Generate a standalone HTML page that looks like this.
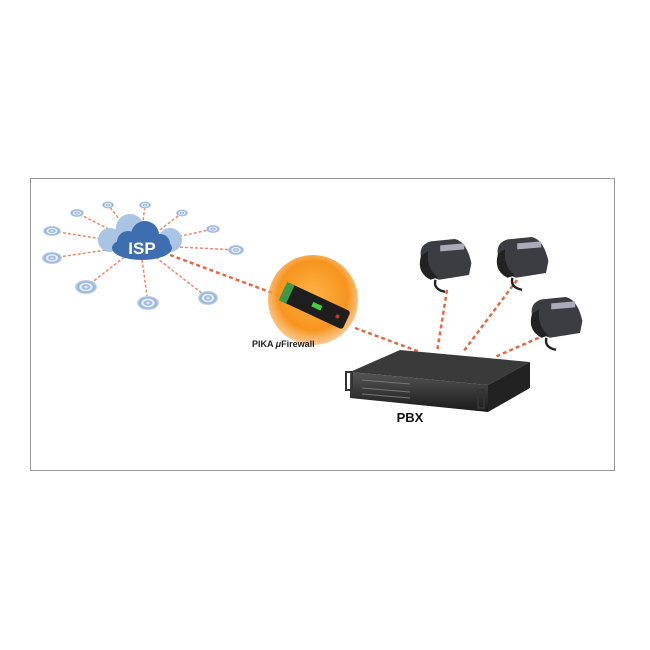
<!DOCTYPE html>
<html><head><style>body{margin:0;background:#fff}svg{display:block}</style></head><body>
<svg width="650" height="650" viewBox="0 0 650 650" xmlns="http://www.w3.org/2000/svg">
<defs>
<radialGradient id="og" cx="50%" cy="45%" r="55%"><stop offset="0" stop-color="#ffb347"/><stop offset=".7" stop-color="#f7941d"/><stop offset="1" stop-color="#f8a84a" stop-opacity=".6"/></radialGradient>
<radialGradient id="rg"><stop offset="0" stop-color="#fff"/><stop offset=".3" stop-color="#8fb0d8"/><stop offset=".5" stop-color="#fff"/><stop offset=".7" stop-color="#8fb0d8"/><stop offset="1" stop-color="#c8d8ec"/></radialGradient>
<linearGradient id="pb" x1="0" y1="0" x2="0" y2="1"><stop offset="0" stop-color="#555"/><stop offset="1" stop-color="#1a1a1a"/></linearGradient>
<g id="ph" transform="scale(1.2)"><path d="M-20,-5 Q-22,-15 -12,-18 L8,-20 Q18,-18 22,0 L20,10 L-5,14 Q-18,10 -20,-5Z" fill="#3b3d42"/><rect x="-4" y="-15" width="20" height="5" fill="#aab" transform="skewY(-5)"/><path d="M-20,-6 Q-24,8 -12,14 L-6,12 Q-16,4 -14,-10Z" fill="#222"/><path d="M-8,14 Q-10,22 0,24" stroke="#222" fill="none" stroke-width="2"/></g>
</defs>
<rect x="30.5" y="178.5" width="584" height="292" fill="#fff" stroke="#999"/>
<g stroke="#e88a70" stroke-width="1.5" stroke-dasharray="3,2" fill="none">
<line x1="140" y1="245" x2="77" y2="213"/><line x1="140" y1="245" x2="108" y2="205"/>
<line x1="140" y1="245" x2="145" y2="205"/><line x1="140" y1="245" x2="182" y2="213"/>
<line x1="140" y1="245" x2="213" y2="229"/><line x1="140" y1="245" x2="236" y2="250"/>
<line x1="140" y1="245" x2="52" y2="231"/><line x1="140" y1="245" x2="52" y2="258"/>
<line x1="140" y1="245" x2="86" y2="287"/><line x1="140" y1="245" x2="148" y2="303"/>
<line x1="140" y1="245" x2="208" y2="298"/>
</g>
<g stroke="#e0694a" stroke-width="2.5" stroke-dasharray="4,3" fill="none">
<line x1="170" y1="255" x2="278" y2="295"/><line x1="355" y1="328" x2="420" y2="352"/>
<line x1="447" y1="290" x2="437" y2="352"/><line x1="517" y1="280" x2="463" y2="352"/>
<line x1="545" y1="335" x2="495" y2="357"/>
</g>
<g fill="url(#rg)">
<ellipse cx="77" cy="213" rx="7" ry="4"/><ellipse cx="108" cy="205" rx="6" ry="3.5"/>
<ellipse cx="145" cy="205" rx="6" ry="3.5"/><ellipse cx="182" cy="213" rx="6" ry="3.5"/>
<ellipse cx="213" cy="229" rx="7" ry="4"/><ellipse cx="236" cy="250" rx="8" ry="5"/>
<ellipse cx="52" cy="231" rx="9" ry="5"/><ellipse cx="52" cy="258" rx="10" ry="6"/>
<ellipse cx="86" cy="287" rx="11" ry="7"/><ellipse cx="148" cy="303" rx="11" ry="7"/>
<ellipse cx="208" cy="298" rx="10" ry="7"/>
</g>
<g fill="#aac4e4"><circle cx="110" cy="240" r="12"/><circle cx="130" cy="228" r="14"/><circle cx="170" cy="240" r="12"/></g>
<g fill="#3d6eb0"><ellipse cx="142" cy="248" rx="30" ry="12"/><circle cx="128" cy="242" r="11"/><circle cx="145" cy="235" r="14"/><circle cx="160" cy="244" r="10"/></g>
<text x="142" y="254" text-anchor="middle" font-family="Liberation Sans, sans-serif" font-weight="bold" font-size="17" fill="#fff">ISP</text>
<circle cx="313" cy="300" r="45" fill="url(#og)"/>
<g transform="rotate(25 313 305)"><rect x="280" y="295" width="70" height="20" rx="3" fill="#1e1e1e"/><rect x="280" y="295" width="8" height="20" fill="#3a9a4a"/><rect x="312" y="302" width="10" height="5" fill="#4c4"/><circle cx="340" cy="305" r="2" fill="#c33"/></g>
<text x="252" y="347" font-family="Liberation Sans, sans-serif" font-weight="bold" font-size="9" fill="#222">PIKA <tspan font-style="italic">μ</tspan>Firewall</text>
<polygon points="350,372 400,350 530,362 488,385" fill="#3a3a3a"/>
<polygon points="350,372 488,385 488,412 350,398" fill="url(#pb)"/>
<polygon points="488,385 530,362 530,388 488,412" fill="#222"/>
<g stroke="#777" stroke-width="1"><line x1="362" y1="380" x2="410" y2="384"/><line x1="362" y1="388" x2="410" y2="392"/><line x1="362" y1="394" x2="410" y2="398"/></g>
<rect x="346" y="372" width="6" height="18" fill="none" stroke="#333" stroke-width="2"/>
<rect x="478" y="390" width="6" height="18" fill="none" stroke="#333" stroke-width="2"/>
<text x="410" y="422" text-anchor="middle" font-family="Liberation Sans, sans-serif" font-weight="bold" font-size="13" fill="#111">PBX</text>
<use href="#ph" x="445" y="263"/><use href="#ph" x="522" y="261"/><use href="#ph" x="556" y="321"/>
</svg>
</body></html>
